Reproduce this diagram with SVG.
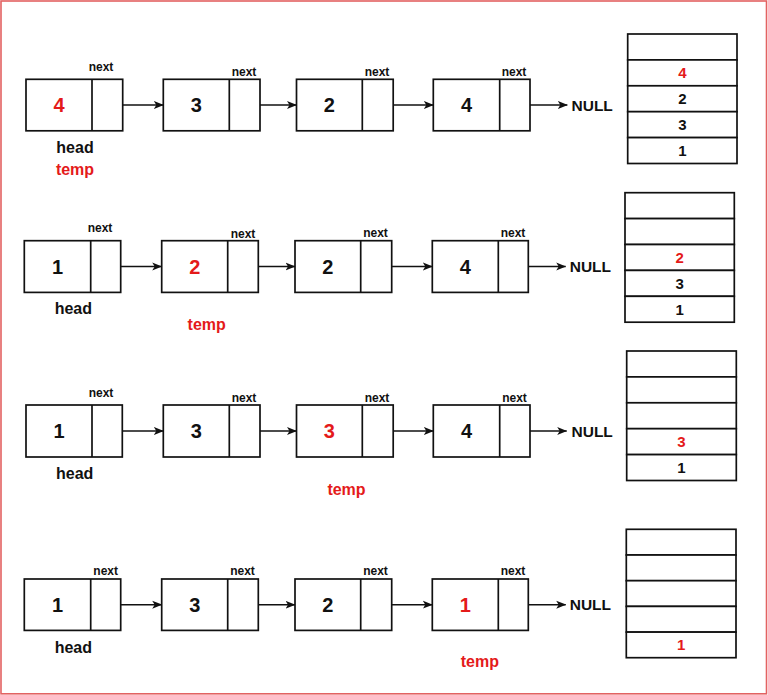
<svg xmlns="http://www.w3.org/2000/svg" width="768" height="695" viewBox="0 0 768 695">
<defs>
<style>
.bx{fill:#fff;stroke:#111;stroke-width:1.7}
.ln{fill:none;stroke:#111;stroke-width:1.7}
.t{font-family:"Liberation Sans",Arial,Helvetica,sans-serif;font-weight:bold;text-anchor:middle}
.v{font-size:20px;fill:#111}
.s{font-size:15px;fill:#111}
.nx{font-size:12px;fill:#111}
.lb{font-size:16px;fill:#111}
.nl{font-size:15.5px;fill:#111;text-anchor:start}
.r{fill:#e41a1a}
.con{fill:none;stroke:#111;stroke-width:1.6;marker-end:url(#ah)}
</style>
<marker id="ah" markerWidth="10" markerHeight="9" refX="9.5" refY="4.5" orient="auto" markerUnits="userSpaceOnUse">
<path d="M0,0.5 L10,4.5 L0,8.5 L2.5,4.5 Z" fill="#111"/>
</marker>
</defs>
<rect x="1" y="1" width="765.5" height="692.8" fill="#fff" stroke="#e36262" stroke-width="1.6"/>

<!-- Row 1 -->
<g id="r1n1"><rect class="bx" x="26" y="79.3" width="96.7" height="51.5"/><line class="ln" x1="92" y1="79.3" x2="92" y2="130.8"/><text class="t v r" x="59" y="112">4</text><text class="t nx" x="101" y="71">next</text></g>
<g id="r1n2"><rect class="bx" x="163.3" y="79.3" width="96.7" height="51.5"/><line class="ln" x1="229.3" y1="79.3" x2="229.3" y2="130.8"/><text class="t v" x="196.3" y="112">3</text><text class="t nx" x="244" y="75.5">next</text></g>
<g id="r1n3"><rect class="bx" x="296.5" y="79.3" width="96.7" height="51.5"/><line class="ln" x1="362.3" y1="79.3" x2="362.3" y2="130.8"/><text class="t v" x="329.4" y="112">2</text><text class="t nx" x="377" y="76">next</text></g>
<g id="r1n4"><rect class="bx" x="433.3" y="79.3" width="96.7" height="51.5"/><line class="ln" x1="499.7" y1="79.3" x2="499.7" y2="130.8"/><text class="t v" x="466.5" y="112">4</text><text class="t nx" x="514" y="75.5">next</text></g>
<g id="r1null"><text class="t nl" x="571.5" y="110.5">NULL</text></g>
<g id="r1lbl"><text class="t lb" x="75" y="153">head</text><text class="t lb r" x="75" y="175">temp</text></g>
<g id="r1stack">
<rect class="bx" x="627.7" y="34" width="109.3" height="25.9"/>
<rect class="bx" x="627.7" y="59.9" width="109.3" height="25.9"/>
<rect class="bx" x="627.7" y="85.8" width="109.3" height="25.9"/>
<rect class="bx" x="627.7" y="111.7" width="109.3" height="25.9"/>
<rect class="bx" x="627.7" y="137.6" width="109.3" height="25.9"/>
<text class="t s r" x="682.3" y="78.3">4</text>
<text class="t s" x="682.3" y="104.2">2</text>
<text class="t s" x="682.3" y="130.1">3</text>
<text class="t s" x="682.3" y="156">1</text>
</g>

<!-- Row 2 -->
<g id="r2n1"><rect class="bx" x="24.3" y="240.7" width="96.4" height="51.7"/><line class="ln" x1="90.7" y1="240.7" x2="90.7" y2="292.4"/><text class="t v" x="57.5" y="273.5">1</text><text class="t nx" x="100" y="232.3">next</text></g>
<g id="r2n2"><rect class="bx" x="161.7" y="240.7" width="96.6" height="51.7"/><line class="ln" x1="227.7" y1="240.7" x2="227.7" y2="292.4"/><text class="t v r" x="194.7" y="273.5">2</text><text class="t nx" x="243" y="237.7">next</text></g>
<g id="r2n3"><rect class="bx" x="295" y="240.7" width="96.7" height="51.7"/><line class="ln" x1="360.7" y1="240.7" x2="360.7" y2="292.4"/><text class="t v" x="327.8" y="273.5">2</text><text class="t nx" x="375.5" y="237.3">next</text></g>
<g id="r2n4"><rect class="bx" x="432.3" y="240.7" width="96" height="51.7"/><line class="ln" x1="498.3" y1="240.7" x2="498.3" y2="292.4"/><text class="t v" x="465.3" y="273.5">4</text><text class="t nx" x="513" y="237">next</text></g>
<g id="r2null"><text class="t nl" x="569.7" y="271.8">NULL</text></g>
<g id="r2lbl"><text class="t lb" x="73.3" y="314">head</text><text class="t lb r" x="206.7" y="329.5">temp</text></g>
<g id="r2stack">
<rect class="bx" x="625" y="192.7" width="109.3" height="25.9"/>
<rect class="bx" x="625" y="218.6" width="109.3" height="25.9"/>
<rect class="bx" x="625" y="244.5" width="109.3" height="25.9"/>
<rect class="bx" x="625" y="270.4" width="109.3" height="25.9"/>
<rect class="bx" x="625" y="296.3" width="109.3" height="25.9"/>
<text class="t s r" x="679.6" y="262.8">2</text>
<text class="t s" x="679.6" y="288.7">3</text>
<text class="t s" x="679.6" y="314.6">1</text>
</g>

<!-- Row 3 -->
<g id="r3n1"><rect class="bx" x="26" y="405" width="96.3" height="52"/><line class="ln" x1="92" y1="405" x2="92" y2="457"/><text class="t v" x="59" y="438">1</text><text class="t nx" x="101" y="396.7">next</text></g>
<g id="r3n2"><rect class="bx" x="163.3" y="405" width="96.7" height="52"/><line class="ln" x1="229.3" y1="405" x2="229.3" y2="457"/><text class="t v" x="196.3" y="438">3</text><text class="t nx" x="244" y="402">next</text></g>
<g id="r3n3"><rect class="bx" x="296.5" y="405" width="96.7" height="52"/><line class="ln" x1="362.3" y1="405" x2="362.3" y2="457"/><text class="t v r" x="329.4" y="438">3</text><text class="t nx" x="377" y="401.7">next</text></g>
<g id="r3n4"><rect class="bx" x="433.3" y="405" width="96.7" height="52"/><line class="ln" x1="499.7" y1="405" x2="499.7" y2="457"/><text class="t v" x="466.5" y="438">4</text><text class="t nx" x="514.5" y="402">next</text></g>
<g id="r3null"><text class="t nl" x="571.5" y="436.5">NULL</text></g>
<g id="r3lbl"><text class="t lb" x="74.7" y="478.7">head</text><text class="t lb r" x="346.5" y="494.5">temp</text></g>
<g id="r3stack">
<rect class="bx" x="626.7" y="351" width="109.6" height="25.9"/>
<rect class="bx" x="626.7" y="376.9" width="109.6" height="25.9"/>
<rect class="bx" x="626.7" y="402.8" width="109.6" height="25.9"/>
<rect class="bx" x="626.7" y="428.7" width="109.6" height="25.9"/>
<rect class="bx" x="626.7" y="454.6" width="109.6" height="25.9"/>
<text class="t s r" x="681.5" y="447">3</text>
<text class="t s" x="681.5" y="472.9">1</text>
</g>

<!-- Row 4 -->
<g id="r4n1"><rect class="bx" x="24.3" y="579" width="96.4" height="51.4"/><line class="ln" x1="90.7" y1="579" x2="90.7" y2="630.4"/><text class="t v" x="57.5" y="611.7">1</text><text class="t nx" x="105.7" y="575">next</text></g>
<g id="r4n2"><rect class="bx" x="161.7" y="579" width="96.6" height="51.4"/><line class="ln" x1="227.7" y1="579" x2="227.7" y2="630.4"/><text class="t v" x="194.7" y="611.7">3</text><text class="t nx" x="242.5" y="575.3">next</text></g>
<g id="r4n3"><rect class="bx" x="295" y="579" width="96.7" height="51.4"/><line class="ln" x1="360.7" y1="579" x2="360.7" y2="630.4"/><text class="t v" x="327.8" y="611.7">2</text><text class="t nx" x="375.5" y="575.3">next</text></g>
<g id="r4n4"><rect class="bx" x="432.3" y="579" width="96" height="51.4"/><line class="ln" x1="498.3" y1="579" x2="498.3" y2="630.4"/><text class="t v r" x="465.3" y="611.7">1</text><text class="t nx" x="513" y="575.3">next</text></g>
<g id="r4null"><text class="t nl" x="569.7" y="610">NULL</text></g>
<g id="r4lbl"><text class="t lb" x="73.3" y="652.7">head</text><text class="t lb r" x="479.8" y="667">temp</text></g>
<g id="r4stack">
<rect class="bx" x="626.3" y="529.3" width="109.7" height="25.7"/>
<rect class="bx" x="626.3" y="555" width="109.7" height="25.7"/>
<rect class="bx" x="626.3" y="580.7" width="109.7" height="25.7"/>
<rect class="bx" x="626.3" y="606.4" width="109.7" height="25.7"/>
<rect class="bx" x="626.3" y="632.1" width="109.7" height="25.6"/>
<text class="t s r" x="681.2" y="650.2">1</text>
</g>

<g id="connectors">
<line class="con" x1="122.7" y1="105" x2="163.3" y2="105"/>
<line class="con" x1="260" y1="105" x2="296.5" y2="105"/>
<line class="con" x1="393.2" y1="105" x2="433.3" y2="105"/>
<line class="con" x1="530" y1="105" x2="567.3" y2="105"/>

<line class="con" x1="120.7" y1="266.5" x2="161.7" y2="266.5"/>
<line class="con" x1="258.3" y1="266.5" x2="295" y2="266.5"/>
<line class="con" x1="391.7" y1="266.5" x2="432.3" y2="266.5"/>
<line class="con" x1="528.3" y1="266.5" x2="565.7" y2="266.5"/>

<line class="con" x1="122.3" y1="431" x2="163.3" y2="431"/>
<line class="con" x1="260" y1="431" x2="296.5" y2="431"/>
<line class="con" x1="393.2" y1="431" x2="433.3" y2="431"/>
<line class="con" x1="530" y1="431" x2="566.7" y2="431"/>

<line class="con" x1="120.7" y1="604.7" x2="161.7" y2="604.7"/>
<line class="con" x1="258.3" y1="604.7" x2="295" y2="604.7"/>
<line class="con" x1="391.7" y1="604.7" x2="432.3" y2="604.7"/>
<line class="con" x1="528.3" y1="604.7" x2="565.7" y2="604.7"/>
</g>
</svg>
